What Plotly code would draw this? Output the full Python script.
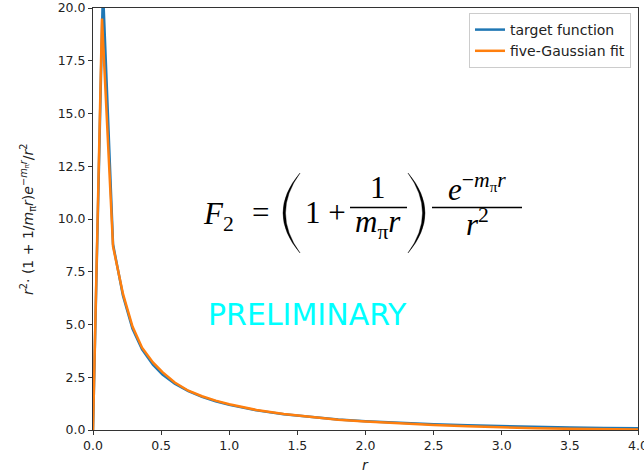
import plotly.graph_objects as go

# radial grids (fm) and the two curves
r_target = [0, 0.073, 0.147, 0.22, 0.29, 0.36, 0.44, 0.51, 0.6, 0.7, 0.8, 0.9, 1.0,
            1.2, 1.4, 1.6, 1.8, 2.0, 2.25, 2.5, 2.75, 3.0, 3.25, 3.5, 3.75, 4.0]
target = [0.0, 20.9, 8.8, 6.36, 4.79, 3.82, 3.09, 2.63, 2.2, 1.84, 1.57, 1.36, 1.19,
          0.93, 0.75, 0.61, 0.5, 0.415, 0.33, 0.27, 0.22, 0.18, 0.145, 0.12, 0.097, 0.08]
r_fit = [0, 0.066, 0.147, 0.22, 0.29, 0.36, 0.44, 0.51, 0.6, 0.7, 0.8, 0.9, 1.0,
         1.2, 1.4, 1.6, 1.8, 2.0, 2.25, 2.5, 2.75, 3.0, 3.25, 3.5, 3.75, 4.0]
fit = [0.0, 19.5, 8.7, 6.45, 4.9, 3.9, 3.2, 2.74, 2.25, 1.86, 1.6, 1.39, 1.22,
       0.95, 0.76, 0.61, 0.49, 0.4, 0.31, 0.24, 0.18, 0.125, 0.085, 0.055, 0.035, 0.025]

series_names = ["target function", "five-Gaussian fit"]
x_ticks = [0.0, 0.5, 1.0, 1.5, 2.0, 2.5, 3.0, 3.5, 4.0]
y_ticks = [0.0, 2.5, 5.0, 7.5, 10.0, 12.5, 15.0, 17.5, 20.0]

W, H = 644, 475
ML, MR, MT, MB = 93, 6, 8, 45
PW, PH = W - ML - MR, H - MT - MB


def px(x):
    return (x - ML) / PW


def py(y):
    return (H - MB - y) / PH


fig = go.Figure()
fig.add_trace(go.Scatter(x=r_target, y=target, mode="lines", name=series_names[0],
                         line=dict(color="#1f77b4", width=2.5)))
fig.add_trace(go.Scatter(x=r_fit, y=fit, mode="lines", name=series_names[1],
                         line=dict(color="#ff7f0e", width=2.5)))

axis_common = dict(showgrid=False, zeroline=False, showline=True, linecolor="#333",
                   linewidth=1, mirror=True, ticks="outside", ticklen=4,
                   tickcolor="#333", tickformat=".1f", ticklabeloverflow="allow",
                   automargin=False,
                   tickfont=dict(family="DejaVu Sans", size=12.5, color="#222"))
fig.update_xaxes(range=[0, 4], tickvals=x_ticks, **axis_common)
fig.update_yaxes(range=[0, 20], tickvals=y_ticks, **axis_common)

math_font = dict(family="Liberation Serif", size=31, color="black")
ann = []


def label(text, x, y, font=math_font, **kw):
    ann.append(dict(text=text, x=px(x), y=py(y), xref="paper", yref="paper",
                    xanchor="center", yanchor="middle", showarrow=False,
                    font=font, **kw))


# F_2 = (1 + 1/(m_pi r)) e^{-m_pi r} / r^2
label("<i>F</i><sub>2</sub>", 218, 216)
label("=", 260, 213)
label("1 +", 325, 213)
label("1", 378, 188)
label("<i>m</i><sub>π</sub><i>r</i>", 378, 224)
label("<i>e</i><sup>−<i>m</i><sub>π</sub><i>r</i></sup>", 477, 187)
label("<i>r</i><sup>2</sup>", 477, 222)

shapes = []
for x0, x1 in [(350, 407), (432, 522)]:
    shapes.append(dict(type="line", xref="paper", yref="paper",
                       x0=px(x0), x1=px(x1), y0=py(207.5), y1=py(207.5),
                       line=dict(color="black", width=1.4)))


def paren(xe, cout, cin, top=173, bot=253):
    mid = (top + bot) / 2
    return (f"M {px(xe)},{py(top)} Q {px(cout)},{py(mid)} {px(xe)},{py(bot)} "
            f"Q {px(cin)},{py(mid)} {px(xe)},{py(top)} Z")


for xe, co, ci in [(300, 266, 271), (408, 442, 437)]:
    shapes.append(dict(type="path", xref="paper", yref="paper",
                       path=paren(xe, co, ci), fillcolor="black",
                       line=dict(color="black", width=0.4)))

label("PRELIMINARY", 307, 314, font=dict(family="DejaVu Sans", size=30, color="#00ffff"))

# axis titles
label("<i>r</i>", 365, 465, font=dict(family="DejaVu Sans", size=14, color="#222"))
label("<i>r</i><sup>2</sup>· (1 + 1/<i>m</i><sub>π</sub><i>r</i>)<i>e</i><sup>−<i>m</i><sub>π</sub><i>r</i></sup>/<i>r</i><sup>2</sup>",
      28, 219, font=dict(family="DejaVu Sans", size=14, color="#222"), textangle=-90)

fig.update_layout(
    width=W, height=H,
    margin=dict(l=ML, r=MR, t=MT, b=MB, autoexpand=False),
    paper_bgcolor="white", plot_bgcolor="white",
    annotations=ann, shapes=shapes,
    showlegend=True,
    legend=dict(x=px(631), y=py(13), xanchor="right", yanchor="top",
                bgcolor="white", bordercolor="#cccccc", borderwidth=1,
                font=dict(family="DejaVu Sans", size=14, color="#222"),
                tracegroupgap=0, itemwidth=30),
)

fig.write_html("out.html")
